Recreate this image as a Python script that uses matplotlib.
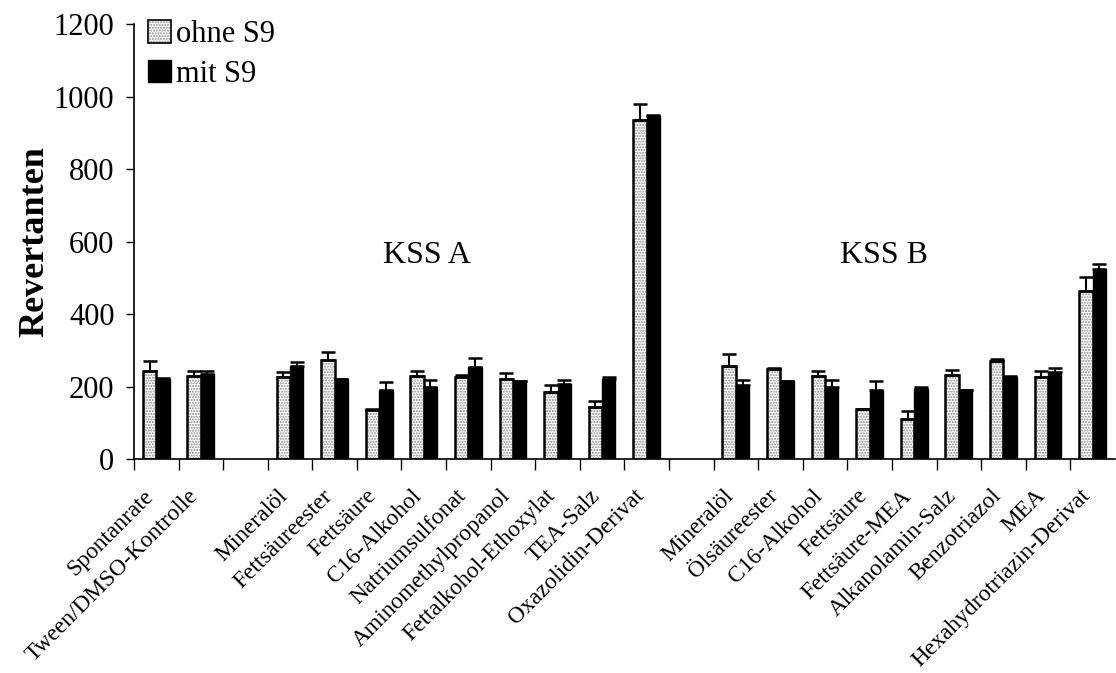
import numpy as np
import matplotlib
matplotlib.use("Agg")
import matplotlib.pyplot as plt
from matplotlib.patches import Patch
from matplotlib.legend_handler import HandlerTuple
from matplotlib.transforms import ScaledTranslation

plt.rcParams["font.family"] = ["Liberation Serif", "DejaVu Serif"]
plt.rcParams["hatch.linewidth"] = 1.0

categories = [
    "Spontanrate", "Tween/DMSO-Kontrolle", "",
    "Mineralöl", "Fettsäureester", "Fettsäure", "C16-Alkohol", "Natriumsulfonat",
    "Aminomethylpropanol", "Fettalkohol-Ethoxylat", "TEA-Salz", "Oxazolidin-Derivat", "",
    "Mineralöl", "Ölsäureester", "C16-Alkohol", "Fettsäure", "Fettsäure-MEA",
    "Alkanolamin-Salz", "Benzotriazol", "MEA", "Hexahydrotriazin-Derivat",
]
nan = np.nan
ohne_s9 = [243, 230, nan, 227, 274, 136, 228, 225, 220, 185, 144, 935, nan,
           256, 248, 229, 137, 111, 231, 270, 227, 463]
ohne_err = [28, 14, nan, 13, 20, 3, 14, 6, 16, 18, 15, 45, nan,
            35, 4, 15, 2, 22, 15, 7, 17, 38]
mit_s9 = [222, 234, nan, 258, 221, 190, 198, 255, 215, 206, 220, 946, nan,
          204, 215, 200, 191, 193, 190, 227, 239, 524]
mit_err = [2, 9, nan, 10, 1, 23, 20, 24, 1, 13, 7, 3, nan,
           14, 1, 18, 23, 5, 1, 1, 12, 14]
group_labels = ["KSS A", "KSS B"]
series_labels = ["ohne S9", "mit S9"]

FS = 22
fig = plt.figure(figsize=(11.16, 6.73), dpi=100)
ax = fig.add_axes([0.120, 0.318, 0.879, 0.646])

x = np.arange(len(categories))
w = 0.3
o = np.array(ohne_s9, float)
m = np.array(mit_s9, float)
oe = np.array(ohne_err, float)
me = np.array(mit_err, float)

# stippled bars without S9: dotted fill, then a black outline on top
ax.bar(x - w / 2, o, w, facecolor="white", edgecolor="#8c8c8c", hatch="......",
       linewidth=0, zorder=2)
ax.bar(x - w / 2, o, w, fill=False, edgecolor="black", linewidth=1.8, zorder=3)
ax.bar(x + w / 2, m, w, color="black", edgecolor="black", linewidth=1.0, zorder=3)

# upper error bars only
ax.errorbar(x - w / 2, o, yerr=[np.zeros_like(oe), oe], fmt="none", ecolor="black",
            elinewidth=1.5, capsize=5, capthick=1.8, zorder=4)
ax.errorbar(x + w / 2, m, yerr=[np.zeros_like(me), me], fmt="none", ecolor="black",
            elinewidth=1.5, capsize=5, capthick=1.8, zorder=4)

ax.set_xlim(-0.5, len(categories) - 0.5)
ax.set_ylim(0, 1200)
ax.set_yticks(np.arange(0, 1201, 200))
ax.tick_params(axis="y", labelsize=FS, length=6, width=1, direction="out", pad=8)

ax.set_xticks(x)
ax.set_xticklabels(categories, rotation=45, ha="right", va="top",
                   rotation_mode="anchor", fontsize=16.8)
ax.tick_params(axis="x", length=0, pad=19)
offset = ScaledTranslation(-13 / 100, 0, fig.dpi_scale_trans)
for lab in ax.get_xticklabels():
    lab.set_transform(lab.get_transform() + offset)
ax.set_xticks(np.arange(-0.5, len(categories) - 1, 1.0), minor=True)
ax.tick_params(axis="x", which="minor", length=8, width=1, direction="out")

for side in ("top", "right"):
    ax.spines[side].set_visible(False)
for side in ("left", "bottom"):
    ax.spines[side].set_linewidth(1.2)

ax.set_ylabel("Revertanten", fontsize=26, fontweight="bold", labelpad=2)

ax.text(6.08, 563, group_labels[0], fontsize=23, ha="center", va="center")
ax.text(16.33, 563, group_labels[1], fontsize=23, ha="center", va="center")

h_ohne = (Patch(facecolor="white", edgecolor="#8c8c8c", hatch="......", linewidth=0),
          Patch(fill=False, edgecolor="black", linewidth=1.2))
h_mit = Patch(facecolor="black", edgecolor="black")
ax.legend([h_ohne, h_mit], series_labels, handler_map={tuple: HandlerTuple(ndivide=1)},
          loc="upper left", bbox_to_anchor=(0.133, 0.970), bbox_transform=fig.transFigure,
          frameon=False, fontsize=FS, handlelength=0.75, handleheight=0.75,
          handletextpad=0.15, labelspacing=0.35, borderaxespad=0, borderpad=0)

fig.savefig("out.png", dpi=100)
